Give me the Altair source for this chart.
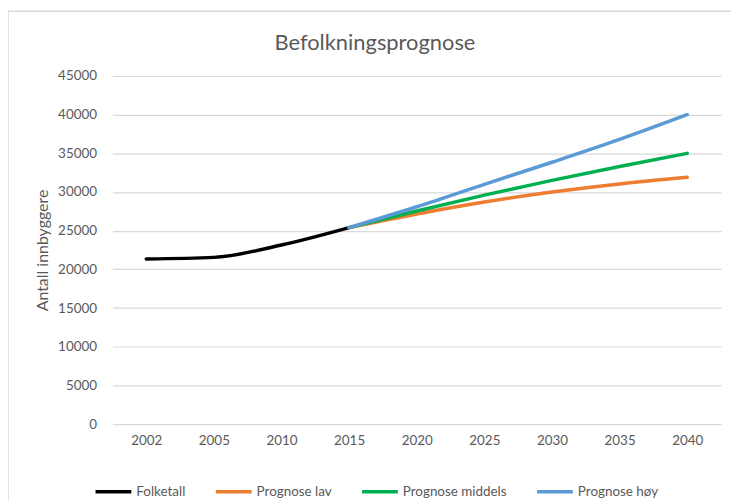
import altair as alt
import pandas as pd

years = ["2002", "2005", "2010", "2015", "2020", "2025", "2030", "2035", "2040"]
folketall_years = ["2002", "2005", "2010", "2015"]
folketall = [21350, 21550, 23150, 25400]
prog_years = ["2015", "2020", "2025", "2030", "2035", "2040"]
prog_lav = [25400, 27150, 28700, 30000, 31050, 31900]
prog_middels = [25400, 27550, 29600, 31500, 33300, 35000]
prog_hoy = [25400, 28100, 31000, 33850, 36800, 40000]

series = ["Folketall", "Prognose lav", "Prognose middels", "Prognose høy"]
colors = ["#000000", "#ED7D31", "#00B050", "#5B9BD5"]
title_text = "Befolkningsprognose"

rows = []
for y, v in zip(folketall_years, folketall):
    rows.append({"year": y, "value": v, "series": "Folketall"})
for name, vals in zip(series[1:], [prog_lav, prog_middels, prog_hoy]):
    for y, v in zip(prog_years, vals):
        rows.append({"year": y, "value": v, "series": name})
df = pd.DataFrame(rows)

FONT = "Lato"
GRAY = "#595959"

frame = alt.Chart(pd.DataFrame({"a": [0]})).mark_rect(
    fill=None, stroke="#D9D9D9", strokeWidth=1.5
).encode(
    x=alt.value(-105), x2=alt.value(700),
    y=alt.value(-65), y2=alt.value(520),
)

title = alt.Chart(pd.DataFrame({"t": [title_text]})).mark_text(
    font=FONT, fontSize=22, color=GRAY, align="center", baseline="middle"
).encode(text="t:N", x=alt.value(264), y=alt.value(-33))

lines = alt.Chart(df).mark_line(strokeWidth=3.5, interpolate="monotone", strokeCap="round").encode(
    x=alt.X("year:O", sort=years, scale=alt.Scale(domain=years, type="point", padding=0.5),
            axis=alt.Axis(title=None, labelAngle=0, ticks=False, domain=False, grid=False,
                          labelPadding=10, labelFontSize=13.5, labelColor=GRAY, labelFont=FONT)),
    y=alt.Y("value:Q", scale=alt.Scale(domain=[0, 45000], nice=False),
            axis=alt.Axis(title="Antall innbyggere", values=list(range(0, 45001, 5000)), format="d",
                          ticks=False, domain=False, gridColor="#D9D9D9", gridWidth=1.2,
                          labelPadding=16, labelFontSize=13.5, labelColor=GRAY, labelFont=FONT,
                          titleFont=FONT, titleFontSize=16, titleColor=GRAY, titleFontWeight="normal",
                          titlePadding=7)),
    color=alt.Color("series:N", sort=series,
                    scale=alt.Scale(domain=series, range=colors),
                    legend=alt.Legend(title=None, orient="none", direction="horizontal",
                                      legendX=-19, legendY=398,
                                      symbolType="stroke", symbolSize=1296, symbolStrokeWidth=3.5,
                                      labelFont=FONT, labelFontSize=13.5, labelColor=GRAY,
                                      labelOffset=3, columnPadding=23)),
    order="series:N",
)

chart = alt.layer(frame, title, lines).properties(
    width=612, height=350,
    autosize=alt.AutoSizeParams(type="none"),
    padding={"left": 105, "top": 67, "right": 10, "bottom": 80},
).configure_view(stroke=None)

chart.save("out.html", embed_options={"renderer": "svg", "actions": False})
